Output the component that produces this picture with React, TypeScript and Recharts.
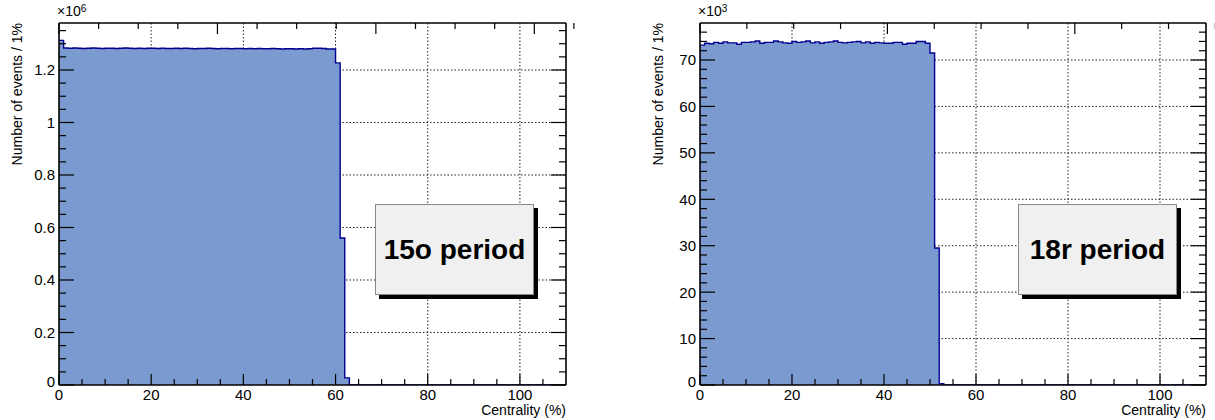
import { AreaChart, Area, XAxis, YAxis, CartesianGrid } from 'recharts'

// bin contents, one value per 1% centrality bin starting at 0
const values15o = [
    1.313,
    1.284, 1.283, 1.284, 1.283, 1.282, 1.283, 1.284, 1.283, 1.282, 1.283,
    1.283, 1.282, 1.283, 1.284, 1.283, 1.282, 1.283, 1.282, 1.283, 1.283,
    1.282, 1.283, 1.282, 1.282, 1.283, 1.282, 1.283, 1.282, 1.281, 1.282,
    1.282, 1.283, 1.282, 1.281, 1.282, 1.282, 1.281, 1.282, 1.282, 1.281,
    1.282, 1.281, 1.282, 1.281, 1.281, 1.282, 1.281, 1.280, 1.281, 1.281,
    1.280, 1.281, 1.280, 1.281, 1.283, 1.283, 1.282, 1.280, 1.280,
    1.227, 0.56, 0.027,
]

const values18r = [
    73.2, 73.6, 73.5, 73.8, 73.6, 73.9, 73.7, 73.7, 73.4, 73.8,
    73.8, 73.9, 74.1, 73.6, 73.8, 73.8, 74.1, 73.9, 73.7, 73.6,
    74.0, 73.8, 73.9, 74.1, 73.7, 73.9, 73.6, 73.8, 73.9, 74.1,
    73.8, 73.7, 73.8, 73.9, 74.0, 73.7, 73.9, 73.6, 73.8, 73.7,
    73.6, 73.6, 73.8, 73.8, 73.4, 73.6, 73.6, 74.0, 74.0, 73.6,
    71.5, 29.5, 0.3,
]

const xMajor = [0, 20, 40, 60, 80, 100]
const xMinor = [5, 10, 15, 25, 30, 35, 45, 50, 55, 65, 70, 75, 85, 90, 95, 105]

const yMajor15o = [0, 0.2, 0.4, 0.6, 0.8, 1, 1.2]
const yMinor15o = [
    0.05, 0.1, 0.15, 0.25, 0.3, 0.35, 0.45, 0.5, 0.55, 0.65, 0.7, 0.75,
    0.85, 0.9, 0.95, 1.05, 1.1, 1.15, 1.25, 1.3, 1.35,
]
const yMajor18r = [0, 10, 20, 30, 40, 50, 60, 70]
const yMinor18r = [
    2, 4, 6, 8, 12, 14, 16, 18, 22, 24, 26, 28, 32, 34, 36, 38,
    42, 44, 46, 48, 52, 54, 56, 58, 62, 64, 66, 68, 72, 74, 76,
]

const FONT = '"Liberation Sans", Arial, Helvetica, sans-serif'
const FILL = '#7b9ad0'
const LINE = '#00008f'

function toHist(values: number[]) {
    const rows = values.map((v, i) => ({ x: i, y: v }))
    rows.push({ x: values.length, y: 0 })
    rows.push({ x: 110, y: 0 })
    return rows
}

function Panel({ values, yMax, yMajor, yMinor, expo, label, left, width, marginLeft, marginRight, box }: any) {
    const data = toHist(values)
    const xTicks = [...xMajor, ...xMinor].sort((a, b) => a - b)
    const yTicks = [...yMajor, ...yMinor].sort((a, b) => a - b)
    const isMajorX = (v: number) => xMajor.includes(v)
    const isMajorY = (v: number) => yMajor.includes(v)

    // axes are 1px thick boxes (recharts skips 0-sized axes), so margins are 1px smaller
    return (
        <div style={{ position: 'absolute', left, top: 0, width, height: 420 }}>
            <AreaChart
                width={width}
                height={420}
                data={data}
                margin={{ top: 22, right: marginRight - 1, bottom: 34, left: marginLeft - 1 }}
            >
                <CartesianGrid
                    xAxisId="b"
                    yAxisId="l"
                    verticalValues={[20, 40, 60, 80, 100]}
                    horizontalValues={yMajor.filter((v: number) => v > 0)}
                    stroke="#222"
                    strokeDasharray="1.5 2"
                />
                <Area
                    xAxisId="b"
                    yAxisId="l"
                    type="stepAfter"
                    dataKey="y"
                    stroke={LINE}
                    strokeWidth={1.4}
                    fill={FILL}
                    fillOpacity={1}
                    dot={false}
                    activeDot={false}
                    isAnimationActive={false}
                />
                <XAxis
                    xAxisId="b"
                    dataKey="x"
                    type="number"
                    domain={[0, 110]}
                    allowDataOverflow
                    ticks={xTicks}
                    interval={0}
                    height={1}
                    tickSize={0}
                    tickMargin={0}
                    axisLine={{ stroke: '#000', strokeWidth: 1.6 }}
                    tick={(p: any) => {
                        const major = isMajorX(p.payload.value)
                        return (
                            <g>
                                <line x1={p.x} x2={p.x} y1={p.y} y2={p.y - (major ? 11 : 6)} stroke="#000" strokeWidth={1.2} />
                                {major && (
                                    <text x={p.x} y={p.y + 15} textAnchor="middle" fontSize={15} fontFamily={FONT} fill="#000">
                                        {p.payload.value}
                                    </text>
                                )}
                            </g>
                        )
                    }}
                />
                <XAxis
                    xAxisId="t"
                    orientation="top"
                    type="number"
                    domain={[0, 110]}
                    allowDataOverflow
                    ticks={xTicks}
                    interval={0}
                    height={1}
                    tickSize={0}
                    tickMargin={0}
                    axisLine={{ stroke: '#000', strokeWidth: 1.6 }}
                    tick={(p: any) => (
                        <line x1={p.x} x2={p.x} y1={p.y} y2={p.y + (isMajorX(p.payload.value) ? 11 : 6)} stroke="#000" strokeWidth={1.2} />
                    )}
                />
                <YAxis
                    yAxisId="l"
                    type="number"
                    domain={[0, yMax]}
                    allowDataOverflow
                    ticks={yTicks}
                    interval={0}
                    width={1}
                    tickSize={0}
                    tickMargin={0}
                    axisLine={{ stroke: '#000', strokeWidth: 1.6 }}
                    tick={(p: any) => {
                        const major = isMajorY(p.payload.value)
                        return (
                            <g>
                                <line x1={p.x} x2={p.x + (major ? 15 : 7)} y1={p.y} y2={p.y} stroke="#000" strokeWidth={1.2} />
                                {major && (
                                    <text x={p.x - 4} y={p.y} dy={p.payload.value === 0 ? '0.1em' : '0.36em'} textAnchor="end" fontSize={15} fontFamily={FONT} fill="#000">
                                        {p.payload.value}
                                    </text>
                                )}
                            </g>
                        )
                    }}
                />
                <YAxis
                    yAxisId="r"
                    orientation="right"
                    type="number"
                    domain={[0, yMax]}
                    allowDataOverflow
                    ticks={yTicks}
                    interval={0}
                    width={1}
                    tickSize={0}
                    tickMargin={0}
                    axisLine={{ stroke: '#000', strokeWidth: 1.6 }}
                    tick={(p: any) => (
                        <line x1={p.x} x2={p.x - (isMajorY(p.payload.value) ? 15 : 7)} y1={p.y} y2={p.y} stroke="#000" strokeWidth={1.2} />
                    )}
                />
            </AreaChart>

            {/* axis titles and exponent */}
            <div style={{ position: 'absolute', left: marginLeft - 2, top: 4, fontFamily: FONT, fontSize: 14, lineHeight: '15px' }}>
                ×10<sup style={{ fontSize: 10, verticalAlign: 'top', position: 'relative', top: -3 }}>{expo}</sup>
            </div>
            <div
                style={{
                    position: 'absolute',
                    left: marginLeft - 50,
                    top: 23,
                    transformOrigin: 'right top',
                    transform: 'translateX(-100%) rotate(-90deg)',
                    fontFamily: FONT,
                    fontSize: 14,
                    whiteSpace: 'nowrap',
                    lineHeight: '16px',
                }}
            >
                Number of events / 1%
            </div>
            <div style={{ position: 'absolute', right: marginRight, top: 402, fontFamily: FONT, fontSize: 14, lineHeight: '16px', whiteSpace: 'nowrap' }}>
                Centrality (%)
            </div>

            {/* period box */}
            <div
                style={{
                    position: 'absolute',
                    left: box,
                    top: 204,
                    width: 157,
                    height: 89,
                    background: '#f0f0f0',
                    border: '1px solid #888',
                    boxShadow: '4px 4px 0 #000',
                    display: 'flex',
                    alignItems: 'center',
                    justifyContent: 'center',
                    fontFamily: FONT,
                    fontWeight: 'bold',
                    fontSize: 28,
                }}
            >
                {label}
            </div>
        </div>
    )
}

export default function App() {
    return (
        <div style={{ position: 'absolute', left: 0, top: 0, width: 1215, height: 420, background: '#fff', overflow: 'hidden' }}>
            <Panel
                values={values15o}
                yMax={1.379}
                yMajor={yMajor15o}
                yMinor={yMinor15o}
                expo="6"
                label="15o period"
                left={0}
                width={607}
                marginLeft={59}
                marginRight={41}
                box={375}
            />
            <Panel
                values={values18r}
                yMax={77.97}
                yMajor={yMajor18r}
                yMinor={yMinor18r}
                expo="3"
                label="18r period"
                left={607}
                width={608}
                marginLeft={93}
                marginRight={9}
                box={411}
            />
        </div>
    )
}
